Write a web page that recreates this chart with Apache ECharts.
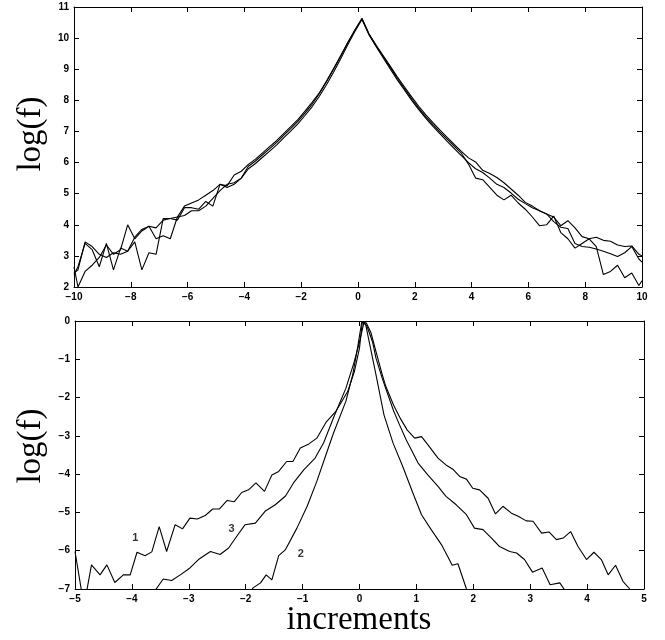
<!DOCTYPE html>
<html><head><meta charset="utf-8">
<script src="https://cdn.jsdelivr.net/npm/echarts@6/dist/echarts.min.js"></script>
<style>html,body{margin:0;padding:0;background:#fff}#c{width:665px;height:640px}</style>
</head><body><div id="c"></div>
<script>
// ---- top panel data ----
var topX = [-10,-9.86,-9.61,-9.36,-9.11,-8.86,-8.61,-8.36,-8.11,-7.86,-7.61,-7.36,-7.11,-6.86,-6.61,-6.36,-6.11,-5.86,-5.61,-5.36,-5.11,-4.86,-4.61,-4.36,-4.11,-3.86,-3.61,-3.36,-3.11,-2.86,-2.61,-2.36,-2.11,-1.86,-1.61,-1.36,-1.11,-0.86,-0.61,-0.36,-0.11,0.14,0.39,0.64,0.89,1.14,1.39,1.64,1.89,2.14,2.39,2.64,2.89,3.14,3.39,3.64,3.89,4.14,4.39,4.64,4.89,5.14,5.39,5.64,5.89,6.14,6.39,6.64,6.89,7.14,7.39,7.64,7.89,8.14,8.39,8.64,8.89,9.14,9.39,9.64,9.89,10];
var topA = [2.45,2.55,3.45,3.3,3.05,2.95,3.1,3.05,3.15,3.6,3.85,3.95,3.9,4.15,4.2,4.25,4.6,4.7,4.8,4.95,5.1,5.3,5.25,5.6,5.72,
  5.94,6.11,6.31,6.51,6.71,6.94,7.16,7.39,7.66,7.94,8.24,8.62,9.02,9.43,9.86,10.26,10.62,10.13,9.77,9.43,9.09,8.75,8.43,8.11,7.81,7.53,7.28,7.04,6.81,6.58,6.36,
  6.15,6.02,5.75,5.65,5.52,5.35,5.15,4.95,4.72,4.6,4.45,4.35,4.25,3.97,4.13,3.9,3.62,3.55,3.6,3.5,3.47,3.35,3.3,3.32,3.05,3.0];
var topB = [2.65,2.0,2.5,2.7,2.95,3.35,3.05,3.2,4.0,3.55,3.8,3.95,3.55,3.65,3.55,4.25,4.3,4.45,4.45,4.6,4.85,5.1,5.3,5.35,5.5,
  5.8,5.97,6.17,6.37,6.57,6.8,7.02,7.25,7.52,7.8,8.13,8.5,8.9,9.34,9.79,10.21,10.6,10.1,9.72,9.36,9.0,8.65,8.33,8.0,7.7,7.42,7.16,6.92,6.68,6.45,6.22,
  6.0,5.8,5.68,5.5,5.3,5.2,5.02,4.82,4.68,4.55,4.45,4.35,4.1,3.92,3.88,3.4,3.3,3.28,3.22,3.15,3.07,2.98,3.1,3.3,2.9,2.8];
var topC = [2.4,2.65,3.4,3.2,2.65,3.4,2.55,3.25,3.15,3.45,2.55,3.1,3.05,4.2,4.2,4.15,4.55,4.55,4.5,4.75,4.6,5.3,5.2,5.3,5.5,
  5.88,6.05,6.25,6.45,6.65,6.88,7.1,7.33,7.6,7.88,8.22,8.6,9.0,9.42,9.85,10.25,10.64,10.12,9.75,9.4,9.05,8.7,8.38,8.05,7.75,7.47,7.22,6.98,6.75,6.52,6.3,
  5.95,5.5,5.45,5.2,4.95,4.8,4.95,4.7,4.5,4.25,3.97,4.0,4.28,3.75,3.55,3.25,3.4,3.55,3.3,2.4,2.5,2.7,2.3,2.45,2.05,2.2];

// ---- bottom panel data ----
var bot1X = [-5,-4.88,-4.8,-4.71,-4.56,-4.44,-4.3,-4.15,-4.03,-3.91,-3.77,-3.65,-3.52,-3.39,-3.24,-3.11,-2.98,-2.85,-2.71,-2.58,-2.46,-2.33,-2.2,-2.07,-1.95,-1.82,-1.67,-1.54,-1.42,-1.28,-1.17,-1.04,-0.89,-0.75,-0.59,-0.42,-0.21,-0.09,0,0.05,0.12,0.2,0.29,0.4,0.46,0.6,0.72,0.84,0.97,1.09,1.2,1.38,1.52,1.64,1.76,1.88,1.99,2.11,2.26,2.39,2.52,2.67,2.79,2.93,3.05,3.2,3.33,3.46,3.58,3.71,3.84,3.99,4.12,4.25,4.37,4.5,4.63,4.75];
var bot1Y = [-6.02,-7.1,-7.1,-6.37,-6.63,-6.37,-6.83,-6.63,-6.63,-6.04,-6.13,-6.03,-5.37,-6.02,-5.32,-5.43,-5.15,-5.17,-5.08,-4.91,-4.91,-4.69,-4.72,-4.48,-4.41,-4.23,-4.45,-4.02,-3.93,-3.67,-3.67,-3.32,-3.21,-3.06,-2.65,-2.37,-1.85,-1.32,-0.71,-0.02,-0.05,-0.3,-0.8,-1.4,-1.7,-2.2,-2.55,-2.85,-3.06,-3.02,-3.23,-3.58,-3.76,-3.87,-4.06,-4.13,-4.37,-4.41,-4.63,-5.04,-4.84,-5.02,-5.1,-5.22,-5.23,-5.54,-5.51,-5.71,-5.67,-5.5,-5.89,-6.23,-6.04,-6.23,-6.63,-6.38,-6.8,-7.0];
var bot3X = [-3.62,-3.45,-3.3,-3.15,-2.98,-2.83,-2.62,-2.45,-2.3,-2.16,-2.01,-1.83,-1.66,-1.48,-1.3,-1.16,-0.98,-0.78,-0.63,-0.45,-0.24,-0.1,0,0.08,0.14,0.23,0.29,0.4,0.46,0.6,0.7,0.82,1.03,1.2,1.38,1.52,1.7,1.88,2.02,2.17,2.32,2.46,2.64,2.76,2.9,3.04,3.21,3.35,3.52,3.64];
var bot3Y = [-7.1,-6.74,-6.78,-6.63,-6.45,-6.23,-6.02,-6.1,-5.93,-5.63,-5.32,-5.28,-4.97,-4.8,-4.57,-4.23,-3.89,-3.58,-3.18,-2.5,-1.76,-1.1,-0.55,-0.02,-0.17,-0.55,-0.97,-1.5,-1.76,-2.35,-2.7,-3.1,-3.71,-4.02,-4.32,-4.58,-4.8,-5.06,-5.41,-5.45,-5.67,-5.89,-6.02,-6.06,-6.23,-6.56,-6.45,-6.89,-6.84,-7.1];
var bot2X = [-1.92,-1.87,-1.74,-1.64,-1.54,-1.42,-1.3,-1.1,-0.92,-0.75,-0.6,-0.45,-0.24,-0.12,-0.035,0.04,0.11,0.17,0.29,0.43,0.59,0.76,0.94,1.09,1.26,1.44,1.55,1.63,1.73,1.88];
var bot2Y = [-7.1,-6.97,-6.84,-6.63,-6.76,-6.13,-5.97,-5.41,-4.84,-4.19,-3.54,-2.9,-2.1,-1.41,-0.71,-0.02,-0.1,-0.54,-1.41,-2.45,-3.19,-3.8,-4.5,-5.06,-5.45,-5.84,-6.15,-6.38,-6.34,-7.0];
var curveTags = ['1','3','2'];
var tagX = [-3.94,-2.25,-1.03];
var tagY = [-5.68,-5.44,-6.08];

function pairs(xs, ys){ return xs.map(function(x,i){ return [x, ys[i]]; }); }
var fmt = function(v){ return String(v).replace('-', '\u2212'); };
var lab = {show:true, color:'#000', fontFamily:'Liberation Sans', fontWeight:'bold', fontSize:10, margin:5, formatter:fmt, showMinLabel:true, showMaxLabel:true};
function ax(type, grid, pos, min, max, interval, withLabels){
  return {type:'value', gridIndex:grid, position:pos, min:min, max:max, interval:interval,
    axisLine:{show:true, onZero:false, lineStyle:{color:'#000', width:1}},
    axisTick:{show:true, inside:true, length:5, lineStyle:{color:'#000', width:1}},
    axisLabel: withLabels ? lab : {show:false},
    splitLine:{show:false}};
}
var lineStyle = {color:'#000', width:1.1};
function ser(xi, yi, data){
  return {type:'line', xAxisIndex:xi, yAxisIndex:yi, data:data, symbol:'none', showSymbol:false,
    lineStyle:lineStyle, clip:true, animation:false, silent:true};
}
var chart = echarts.init(document.getElementById('c'), null, {renderer:'canvas'});
chart.setOption({
  animation:false,
  backgroundColor:'#fff',
  grid:[
    {left:74, top:7, width:568, height:280},
    {left:75, top:321, width:569, height:268}
  ],
  xAxis:[
    ax('x',0,'bottom',-10,10,2,true),
    ax('x',0,'top',-10,10,2,false),
    ax('x',1,'bottom',-5,5,1,true),
    ax('x',1,'top',-5,5,1,false)
  ],
  yAxis:[
    ax('y',0,'left',2,11,1,true),
    ax('y',0,'right',2,11,1,false),
    ax('y',1,'left',-7,0,1,true),
    ax('y',1,'right',-7,0,1,false)
  ],
  series:[
    ser(0,0,pairs(topX,topA)),
    ser(0,0,pairs(topX,topB)),
    ser(0,0,pairs(topX,topC)),
    ser(2,2,pairs(bot1X,bot1Y)),
    ser(2,2,pairs(bot3X,bot3Y)),
    ser(2,2,pairs(bot2X,bot2Y)),
    {type:'scatter', xAxisIndex:2, yAxisIndex:2, symbolSize:1, itemStyle:{color:'rgba(0,0,0,0)'}, silent:true,
     data: curveTags.map(function(t,i){ return {name:t, value:[tagX[i], tagY[i]]}; }),
     label:{show:true, position:'inside', formatter:function(p){return p.name;}, color:'#000', fontFamily:'Liberation Sans', fontWeight:'bold', fontSize:11}}
  ],
  graphic:[
    {type:'text', x:31, y:134, rotation:Math.PI/2, style:{text:'log(f)', font:'33px "Liberation Serif"', fill:'#000', textAlign:'center', textVerticalAlign:'middle'}},
    {type:'text', x:31, y:446, rotation:Math.PI/2, style:{text:'log(f)', font:'33px "Liberation Serif"', fill:'#000', textAlign:'center', textVerticalAlign:'middle'}},
    {type:'text', x:359, y:620, style:{text:'increments', font:'33px "Liberation Serif"', fill:'#000', textAlign:'center', textVerticalAlign:'middle'}}
  ]
});
</script></body></html>
